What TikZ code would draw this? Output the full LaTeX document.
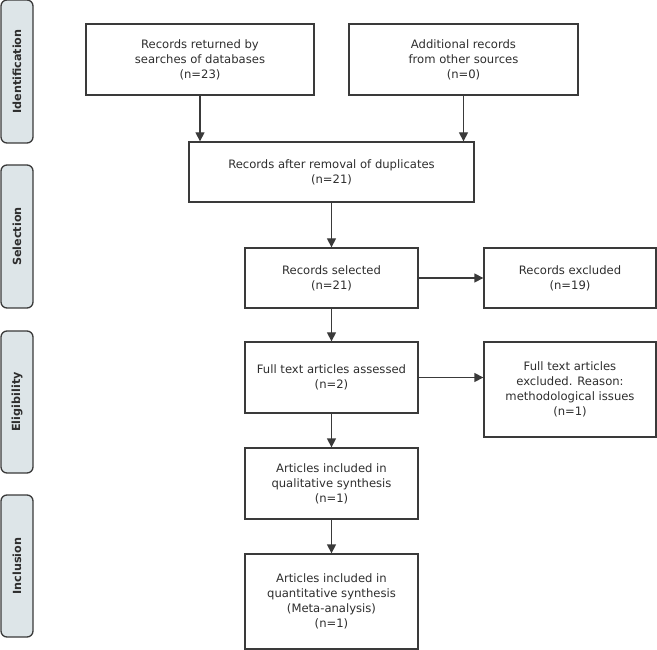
\documentclass[tikz,border=0pt]{standalone}
\usepackage{fontspec}
\setmainfont{DejaVu Sans}
\usetikzlibrary{arrows.meta}
\definecolor{linegray}{HTML}{3A3A3A}
\definecolor{sidefill}{HTML}{DDE5E8}
\definecolor{textgray}{HTML}{2E2E2E}
\begin{document}
\begin{tikzpicture}[x=1pt,y=-1pt,
  box/.style={draw=linegray, line width=1.3pt, fill=white, inner sep=2pt, align=center,
    text=textgray, font=\fontsize{11.6}{15}\selectfont},
  side/.style={draw=linegray, line width=1.3pt, fill=sidefill, rounded corners=6pt, rotate=90,
    minimum height=32pt, inner sep=0pt, text=textgray, font=\bfseries\fontsize{11.2}{13}\selectfont},
  flow/.style={draw=linegray, line width=1.3pt, -{Triangle[length=9pt,width=9pt]}}]
\useasboundingbox (0,0) rectangle (657,650);
% side phase labels
\node[side, minimum width=143pt] (id) at (17,71.5) {Identification};
\node[side, minimum width=143pt] (sel) at (17,236.5) {Selection};
\node[side, minimum width=142pt] (eli) at (17,402) {Eligibility};
\node[side, minimum width=142pt] (inc) at (17,566) {Inclusion};
% boxes
\node[box, minimum width=228pt, minimum height=71pt] (b1) at (200,59.5) {Records returned by\\searches of databases\\(n=23)};
\node[box, minimum width=229pt, minimum height=71pt] (b2) at (463.5,59.5) {Additional records\\from other sources\\(n=0)};
\node[box, minimum width=285pt, minimum height=60pt] (b3) at (331.5,172) {Records after removal of duplicates\\(n=21)};
\node[box, minimum width=173pt, minimum height=60pt] (b4) at (331.5,278) {Records selected\\(n=21)};
\node[box, minimum width=172pt, minimum height=60pt] (b5) at (570,278) {Records excluded\\(n=19)};
\node[box, minimum width=173pt, minimum height=71pt] (b6) at (331.5,377.5) {Full text articles assessed\\(n=2)};
\node[box, minimum width=172pt, minimum height=95pt] (b7) at (570,389.5) {Full text articles\\excluded. Reason:\\methodological issues\\(n=1)};
\node[box, minimum width=173pt, minimum height=71pt] (b8) at (331.5,483.5) {Articles included in\\qualitative synthesis\\(n=1)};
\node[box, minimum width=173pt, minimum height=95pt] (b9) at (331.5,601.5) {Articles included in\\quantitative synthesis\\(Meta-analysis)\\(n=1)};
% connectors
\draw[flow] (b1.south) -- (b1.south |- b3.north);
\draw[flow] (b2.south) -- (b2.south |- b3.north);
\draw[flow] (b3.south) -- (b4.north);
\draw[flow] (b4.east) -- (b5.west);
\draw[flow] (b4.south) -- (b6.north);
\draw[flow] (b6.east) -- (b6.east -| b7.west);
\draw[flow] (b6.south) -- (b8.north);
\draw[flow] (b8.south) -- (b9.north);
\end{tikzpicture}
\end{document}
